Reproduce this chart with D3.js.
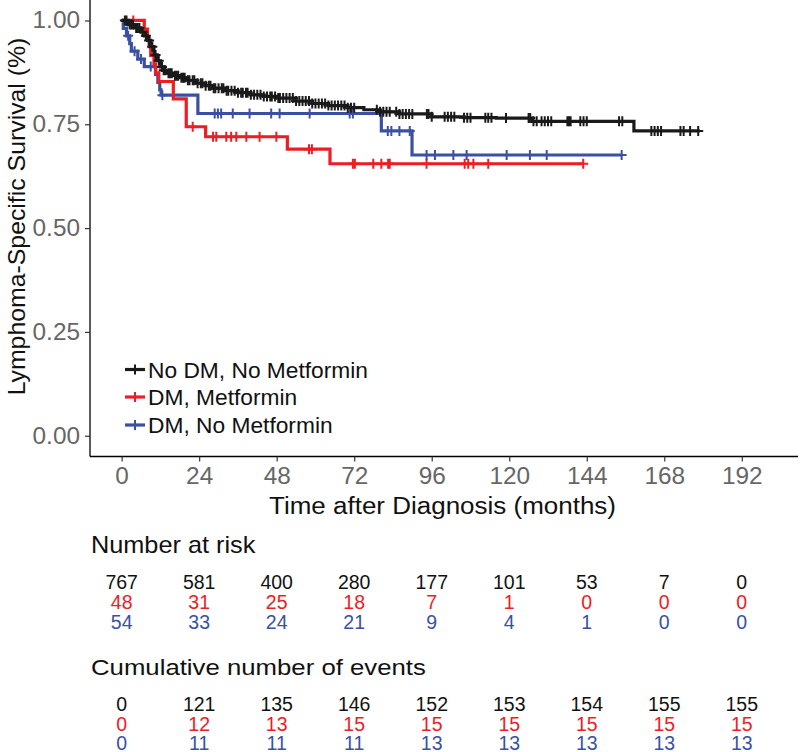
<!DOCTYPE html>
<html><head><meta charset="utf-8">
<script src="https://cdn.jsdelivr.net/npm/d3@7"></script>
<style>body{margin:0;background:#fff}svg{display:block;font-family:"Liberation Sans",Arial,sans-serif}</style>
</head><body><svg id="c" width="800" height="752"></svg>
<script>
// ---- data ----
const groups = ["No DM, No Metformin", "DM, Metformin", "DM, No Metformin"];
const groupColors = ["#1a1a1a", "#ee1c25", "#3a51a3"];
const tableColors = ["#111111", "#ee1c25", "#3a51a3"];
const xTicks = [0, 24, 48, 72, 96, 120, 144, 168, 192];
const yTicks = [0, 0.25, 0.5, 0.75, 1];
const yTickLabels = ["0.00", "0.25", "0.50", "0.75", "1.00"];

const timesNoDM = [0,2,4,6,7,8,9,10,11,12,13,14,16,18,20,23,26,28,32,36,40,44,48,54,59,64,70,75,80,86,96,106,116,127,158.6,179];
const survNoDM  = [1,0.99,0.982,0.972,0.963,0.952,0.937,0.917,0.903,0.888,0.880,0.873,0.867,0.862,0.856,0.849,0.843,0.837,0.831,0.826,0.821,0.817,0.813,0.806,0.800,0.795,0.790,0.785,0.780,0.775,0.768,0.766,0.765,0.757,0.734,0.734];
const censNoDM  = [1,1.5,2.5,3,3.5,4.5,5,5.5,6.5,7.5,8.5,9.5,10.5,11.5,12.5,13,13.5,14.5,15,15.5,16.5,17,17.5,18.5,19,19.5,20.5,21,22,22.5,23.5,24.5,25,26,27,27.5,28.5,29,30,31,31.5,32.5,33,34,35,36,37,37.5,38.5,39,40,41,42,43,44,45,46,46.5,47.5,48.5,49,50,51,52,53,54,55,56,57,58,59,60,61,62,63,64,65,66,67,68,69,70,71,72,79,80,81,82,83,85,86,87,88,89,90,94.5,95,96,100,101,102,103,106,107,108,112.6,113.5,114.5,119,126,126.5,127.5,128.5,130,131,132,133,138,138.5,139,142,143,144,154,155,164,165,166,167,173,174,176,178.5];

const timesMet = [0,7,8,8.5,9,10,10.5,11.5,16,20,26,51.3,64.5,142.9];
const survMet  = [1,0.979,0.958,0.937,0.916,0.895,0.874,0.853,0.811,0.744,0.720,0.690,0.655,0.655];
const censMet  = [3.6,22,28.3,29.3,32.4,33.9,35.5,38.6,42.7,47.9,58,58.9,71.6,72.2,77.9,80.4,82.5,83,94.4,106.2,107.3,108.9,113.5,142.9];

const timesNoMet = [0,0.5,1.5,2.5,3,5,7,10.5,11.2,11.8,12.2,23.6,80.4,89.9,154.8];
const survNoMet  = [1,0.981,0.963,0.944,0.926,0.907,0.889,0.870,0.851,0.833,0.820,0.776,0.734,0.676,0.676];
const censNoMet  = [2,4,6,9,12.6,28.8,29.8,30.8,34.4,39.6,46.3,48.9,58.2,70.6,71.6,82.4,83.5,86,89.2,94.4,97,102.7,106.8,119.2,126.4,131.6,154.8];

const atRiskNoDM  = [767,581,400,280,177,101,53,7,0];
const atRiskMet   = [48,31,25,18,7,1,0,0,0];
const atRiskNoMet = [54,33,24,21,9,4,1,0,0];
const eventsNoDM  = [0,121,135,146,152,153,154,155,155];
const eventsMet   = [0,12,13,15,15,15,15,15,15];
const eventsNoMet = [0,11,11,11,13,13,13,13,13];

// ---- build ----
const series = [
  {times: timesNoDM, surv: survNoDM, cens: censNoDM},
  {times: timesMet, surv: survMet, cens: censMet},
  {times: timesNoMet, surv: survNoMet, cens: censNoMet}
];
const atRisk = [atRiskNoDM, atRiskMet, atRiskNoMet];
const events = [eventsNoDM, eventsMet, eventsNoMet];

const svg = d3.select("#c");
const x = d3.scaleLinear().domain([-9.8, 209.4]).range([90, 798]);
const y = d3.scaleLinear().domain([-0.05, 1.05]).range([456.5, -0.3]);

function addText(px, py, str, size, sx, anchor, fill, rotate) {
  return svg.append("text")
    .attr("transform", `translate(${px},${py})` + (rotate ? ` rotate(${rotate})` : "") + ` scale(${sx},1)`)
    .attr("text-anchor", anchor).attr("font-size", size).attr("fill", fill).text(str);
}

// axes
const TSX = 1.06;
const gx = svg.append("g").attr("transform", `translate(0,${y(-0.05)})`)
  .call(d3.axisBottom(x).tickValues(xTicks).tickSize(5).tickPadding(6).tickFormat(d3.format("d")));
gx.select(".domain").attr("stroke", "#000").attr("stroke-width", 1.3).attr("d", `M${x(-9.8)},0H${x(209.4)}`);
gx.selectAll(".tick line").attr("stroke", "#333").attr("stroke-width", 1.2);
gx.selectAll(".tick text").attr("fill", "#666").attr("font-size", 23)
  .attr("font-family", "Liberation Sans, Arial, sans-serif").attr("transform", `scale(${TSX},1)`);

const gy = svg.append("g").attr("transform", `translate(${x(-9.8)},0)`)
  .call(d3.axisLeft(y).tickValues(yTicks).tickSize(5).tickPadding(5).tickFormat((d, i) => yTickLabels[i]));
gy.select(".domain").attr("stroke", "#000").attr("stroke-width", 1.3).attr("d", `M0,${y(-0.05)}V${y(1.05)}`);
gy.selectAll(".tick line").attr("stroke", "#333").attr("stroke-width", 1.2);
gy.selectAll(".tick text").attr("fill", "#666").attr("font-size", 23)
  .attr("font-family", "Liberation Sans, Arial, sans-serif")
  .attr("x", -10 / TSX).attr("transform", `scale(${TSX},1)`);

addText(442.5, 514, "Time after Diagnosis (months)", 23, 1.13, "middle", "#111");
addText(25, 216.5, "Lymphoma-Specific Survival (%)", 23, 1.08, "middle", "#111", -90);

// curves
const line = d3.line().x(d => x(d[0])).y(d => y(d[1])).curve(d3.curveStepAfter);
function survAt(s, t) {
  const i = d3.bisectRight(s.times, t) - 1;
  return s.surv[Math.max(0, i)];
}
const plusPath = (cx, cy, h) => `M${cx - h},${cy}H${cx + h}M${cx},${cy - h}V${cy + h}`;

[2, 1, 0].forEach(gi => {
  const s = series[gi];
  const g = svg.append("g");
  g.append("path").attr("d", line(s.times.map((t, i) => [t, s.surv[i]])))
    .attr("fill", "none").attr("stroke", groupColors[gi]).attr("stroke-width", 3.2);
  g.selectAll("path.cens").data(s.cens).join("path").attr("class", "cens")
    .attr("d", t => plusPath(x(t), y(survAt(s, t)), 5))
    .attr("stroke", groupColors[gi]).attr("stroke-width", 2).attr("fill", "none");
});

// legend
const legY = [369.5, 397, 425];
groups.forEach((name, gi) => {
  const g = svg.append("g");
  g.append("path").attr("d", `M125,${legY[gi]}H145`).attr("stroke", groupColors[gi]).attr("stroke-width", 3.2);
  g.append("path").attr("d", plusPath(135, legY[gi], 5)).attr("stroke", groupColors[gi]).attr("stroke-width", 2);
  addText(148, legY[gi] + 8, name, 22, 1.035, "start", "#111");
});

// tables
addText(91, 553, "Number at risk", 23, 1.10, "start", "#111");
addText(91, 675, "Cumulative number of events", 23, 1.12, "start", "#111");
const riskBase = [589, 609, 628.5];
const evBase = [711, 730.5, 749.5];
atRisk.forEach((row, gi) => {
  svg.append("g").selectAll("text").data(row).join("text")
    .attr("x", (d, i) => x(xTicks[i])).attr("y", riskBase[gi]).attr("text-anchor", "middle")
    .attr("font-size", 19.5).attr("fill", tableColors[gi]).text(d => d);
});
events.forEach((row, gi) => {
  svg.append("g").selectAll("text").data(row).join("text")
    .attr("x", (d, i) => x(xTicks[i])).attr("y", evBase[gi]).attr("text-anchor", "middle")
    .attr("font-size", 19.5).attr("fill", tableColors[gi]).text(d => d);
});
</script></body></html>
